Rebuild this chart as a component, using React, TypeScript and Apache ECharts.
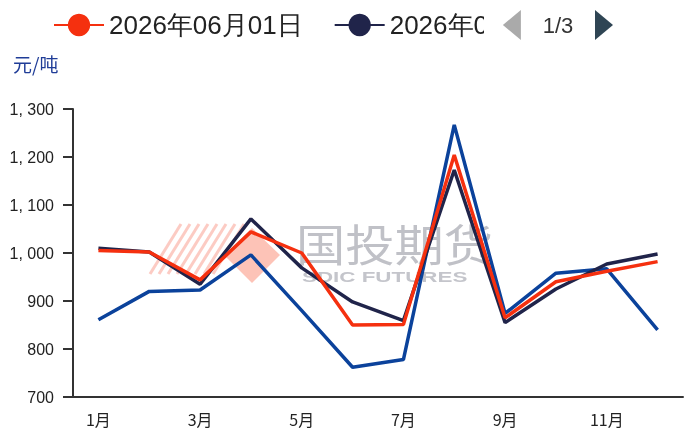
import React, { useEffect, useRef } from "react";
import * as echarts from "echarts";

const categories = ["1月", "2月", "3月", "4月", "5月", "6月", "7月", "8月", "9月", "10月", "11月", "12月"];
const seriesNames = ["2026年06月01日", "2026年05月25日", "2025年06月01日"];
const redValues = [1005, 1002, 944, 1044, 1000, 850, 851, 1204, 865, 940, 962, 982];
const darkValues = [1010, 1002, 935, 1071, 969, 898, 859, 1173, 855, 925, 977, 998];
const blueValues = [861, 920, 923, 996, 880, 762, 778, 1267, 874, 958, 967, 840];
const yTicks = { min: 700, max: 1300, interval: 100 };

const fmtY = (v: number) =>
  v >= 1000 ? `${Math.floor(v / 1000)}, ${String(v % 1000).padStart(3, "0")}` : String(v);

export default function App() {
  const ref = useRef<HTMLDivElement>(null);
  useEffect(() => {
    if (!ref.current) return;
    const chart = echarts.init(ref.current, null, { renderer: "svg" });
    const hatch = [] as any[];
    for (let i = 0; i < 8; i++) {
      hatch.push({
        type: "line",
        z: 0,
        shape: { x1: 150 + i * 9, y1: 274, x2: 181 + i * 9, y2: 224 },
        style: { stroke: "rgba(250,160,145,0.55)", lineWidth: 3 },
        silent: true,
      });
    }
    chart.setOption({
      animation: false,
      title: {
        text: "元/吨",
        left: 8,
        top: 49,
        textStyle: { color: "#1f3c97", fontSize: 19, fontWeight: "normal", fontFamily: "Noto Sans CJK SC, sans-serif" },
      },
      legend: {
        type: "scroll",
        left: 48,
        top: 5,
        width: 560,
        itemWidth: 50,
        itemHeight: 28,
        itemGap: 31,
        pageButtonGap: 19,
        pageButtonItemGap: 12,
        pageIconSize: [18, 30],
        pageIconColor: "#2f4554",
        pageIconInactiveColor: "#aaa",
        pageTextStyle: { fontSize: 22, color: "#333" },
        data: seriesNames,
        textStyle: { fontSize: 26, color: "#222" },
      },
      grid: { left: 73, right: 3, top: 109, bottom: 35, containLabel: false },
      xAxis: {
        type: "category",
        data: categories,
        boundaryGap: true,
        axisLine: { lineStyle: { color: "#333", width: 2 } },
        axisTick: { length: 9, lineStyle: { color: "#333", width: 2 } },
        axisLabel: { interval: 1, fontSize: 16, color: "#222", margin: 14, fontFamily: "Noto Sans CJK SC, sans-serif" },
      },
      yAxis: {
        type: "value",
        min: yTicks.min,
        max: yTicks.max,
        interval: yTicks.interval,
        axisLine: { show: true, lineStyle: { color: "#333", width: 2 } },
        axisTick: { show: true, length: 10, lineStyle: { color: "#333", width: 2 } },
        splitLine: { show: false },
        axisLabel: { formatter: fmtY, fontSize: 16, color: "#222", margin: 19, fontFamily: "Liberation Sans, Arial, sans-serif" },
      },
      graphic: [
        ...hatch,
        {
          type: "polygon",
          z: 0,
          silent: true,
          shape: { points: [[252, 228], [280, 255], [252, 283], [224, 255]] },
          style: { fill: "rgba(252,180,165,0.8)" },
        },
        {
          type: "text",
          z: 0,
          silent: true,
          x: 296,
          y: 221,
          scaleX: 1.12,
          style: { text: "国投期货", fontSize: 44, fill: "#c0c1c7", fontFamily: "Noto Sans CJK SC, sans-serif" },
        },
        {
          type: "text",
          z: 0,
          silent: true,
          x: 302,
          y: 270,
          scaleX: 1.6,
          style: { text: "SDIC FUTURES", fontSize: 14, fontWeight: "bold", fill: "#c4c5cb", fontFamily: "Liberation Sans, sans-serif" },
        },
      ],
      series: [
        {
          name: seriesNames[2],
          type: "line",
          data: blueValues,
          symbol: "none",
          lineStyle: { width: 3.5, color: "#0b429b" },
          itemStyle: { color: "#0b429b" },
        },
        {
          name: seriesNames[1],
          type: "line",
          data: darkValues,
          symbol: "none",
          lineStyle: { width: 3.5, color: "#20244a" },
          itemStyle: { color: "#20244a" },
        },
        {
          name: seriesNames[0],
          type: "line",
          data: redValues,
          symbol: "none",
          lineStyle: { width: 3.5, color: "#f5300f" },
          itemStyle: { color: "#f5300f" },
        },
      ],
    });
    return () => chart.dispose();
  }, []);
  return <div ref={ref} style={{ position: "fixed", left: 0, top: 0, width: 686, height: 432 }} />;
}
